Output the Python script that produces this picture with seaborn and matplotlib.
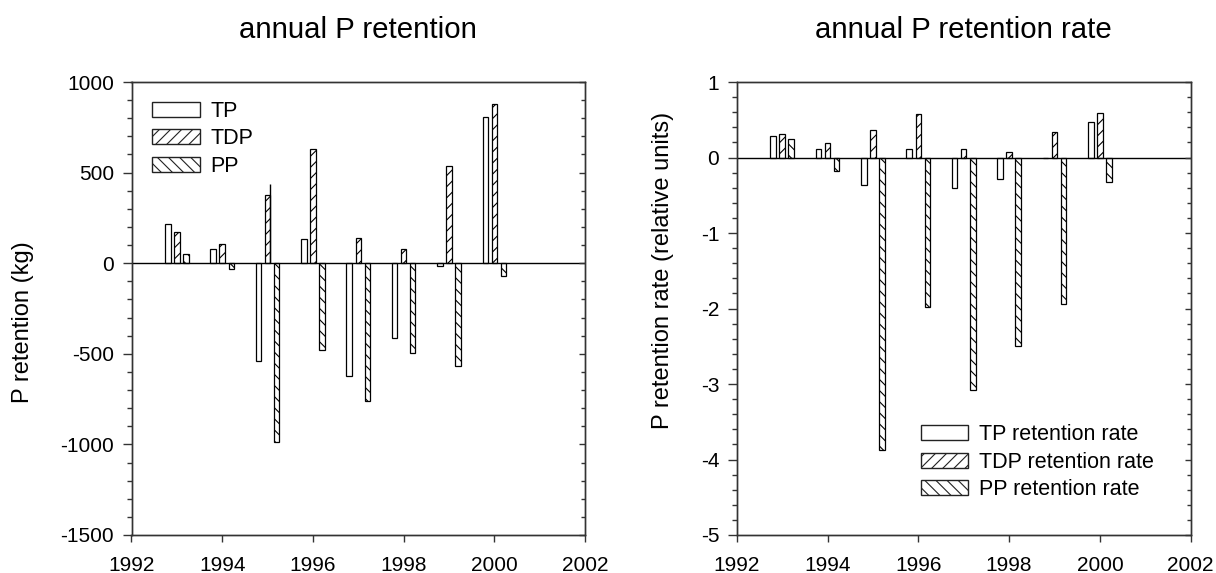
import matplotlib
matplotlib.use("Agg")
import matplotlib.pyplot as plt
from matplotlib.patches import Patch
from matplotlib.ticker import MultipleLocator
import numpy as np
import pandas as pd
import seaborn as sns

# ---------------- data ----------------
years = [1993, 1994, 1995, 1996, 1997, 1998, 1999, 2000]
series = ["TP", "TDP", "PP"]
tp_kg = [215, 77, -538, 134, -621, -415, -13, 807]
tdp_kg = [171, 107, 377, 630, 138, 81, 536, 878]
pp_kg = [50, -31, -986, -479, -761, -494, -566, -70]
# thin extra line drawn beside the 1995 TDP bar in the original
extra_line_year = [1995]
extra_line_top = [438]

tp_rate = [0.29, 0.11, -0.37, 0.11, -0.40, -0.29, -0.01, 0.47]
tdp_rate = [0.31, 0.19, 0.37, 0.57, 0.11, 0.07, 0.34, 0.59]
pp_rate = [0.25, -0.18, -3.88, -1.98, -3.08, -2.50, -1.94, -0.33]

left_title = "annual P retention"
right_title = "annual P retention rate"
left_ylabel = "P retention (kg)"
right_ylabel = "P retention rate (relative units)"
left_legend = ["TP", "TDP", "PP"]
right_legend = ["TP retention rate", "TDP retention rate", "PP retention rate"]
xticks = [1992, 1994, 1996, 1998, 2000, 2002]

# ---------------- style ----------------
sns.set_theme(style="ticks")
plt.rcParams["font.family"] = ["Liberation Sans", "DejaVu Sans"]
plt.rcParams["axes.unicode_minus"] = False
plt.rcParams["hatch.linewidth"] = 0.8
plt.rcParams["axes.edgecolor"] = "#333333"
plt.rcParams["axes.linewidth"] = 1.0
plt.rcParams["text.color"] = "black"
plt.rcParams["axes.labelcolor"] = "black"
plt.rcParams["axes.titlecolor"] = "black"

hatches = [None, "///", "\\\\\\"]

def long_df(a, b, c):
    rows = []
    for name, vals in zip(series, [a, b, c]):
        for y, v in zip(years, vals):
            rows.append({"year": y, "value": v, "series": name})
    return pd.DataFrame(rows)

fig = plt.figure(figsize=(12.16, 5.73), dpi=100)
W, H = 1216, 573
axL = fig.add_axes([131.5 / W, (H - 535) / H, 453.5 / W, 453 / H])
axR = fig.add_axes([736.7 / W, (H - 535) / H, 454 / W, 453 / H])


def draw(ax, df, ylim, major, minor, legend_labels, legend_anchor, legend_loc,
         title, ylabel, label_xy):
    sns.barplot(data=df, x="year", y="value", hue="series", hue_order=series,
                native_scale=True, width=0.6, gap=0.4, errorbar=None,
                palette=["white"] * 3, saturation=1, edgecolor="black",
                linewidth=0.9, legend=False, ax=ax)
    for cont, h in zip(ax.containers, hatches):
        for p in cont:
            if h:
                p.set_hatch(h)
    ax.axhline(0, color="black", lw=1.0, zorder=3)
    ax.set_xlim(1992, 2002)
    ax.set_ylim(*ylim)
    ax.set_xticks(xticks)
    ax.set_xticklabels([str(t) for t in xticks])
    ax.yaxis.set_major_locator(MultipleLocator(major))
    ax.yaxis.set_minor_locator(MultipleLocator(minor))
    ax.tick_params(axis="y", which="major", direction="out", length=6.5,
                   width=1, pad=6, labelsize=15, colors="#333333", labelcolor="black")
    ax.tick_params(axis="y", which="minor", direction="out", length=3.5,
                   width=1, colors="#333333")
    ax.tick_params(axis="x", which="major", direction="out", length=4.8,
                   width=1, pad=10, labelsize=15, colors="#333333", labelcolor="black")
    for s in ax.spines.values():
        s.set_visible(True)
    # inward ticks on the right spine
    tw = ax.twinx()
    tw.set_ylim(*ylim)
    tw.yaxis.set_major_locator(MultipleLocator(major))
    tw.yaxis.set_minor_locator(MultipleLocator(minor))
    tw.tick_params(axis="y", which="major", direction="in", length=4.5,
                   width=1, labelright=False, colors="#333333")
    tw.tick_params(axis="y", which="minor", direction="in", length=3,
                   width=1, labelright=False, colors="#333333")
    ax.set_xlabel("")
    ax.set_ylabel(ylabel, fontsize=17, color="black")
    ax.yaxis.set_label_coords(*label_xy)
    ax.set_title(title, fontsize=21.2, y=1.097, pad=0, color="black")
    handles = [Patch(facecolor="white", edgecolor="#222222", lw=1.0,
                     hatch=h if h else "") for h in hatches]
    ax.legend(handles, legend_labels, loc=legend_loc, bbox_to_anchor=legend_anchor,
              frameon=False, fontsize=15.5, handlelength=2.2, handleheight=0.7,
              handletextpad=0.5, labelspacing=0.3, borderpad=0, borderaxespad=0,
              labelcolor="black")


draw(axL, long_df(tp_kg, tdp_kg, pp_kg), (-1500, 1000), 500, 100, left_legend,
     (0.046, 0.958), "upper left", left_title, left_ylabel, (-0.215, 0.469))
# the thin line next to the 1995 TDP bar
axL.vlines([y + 0.06 for y in extra_line_year], 0, extra_line_top,
           color="black", lw=1.0, zorder=4)

draw(axR, long_df(tp_rate, tdp_rate, pp_rate), (-5, 1), 1, 0.2, right_legend,
     (0.406, 0.077), "lower left", right_title, right_ylabel, (-0.138, 0.583))

fig.savefig("out.png", dpi=100, facecolor="white")
